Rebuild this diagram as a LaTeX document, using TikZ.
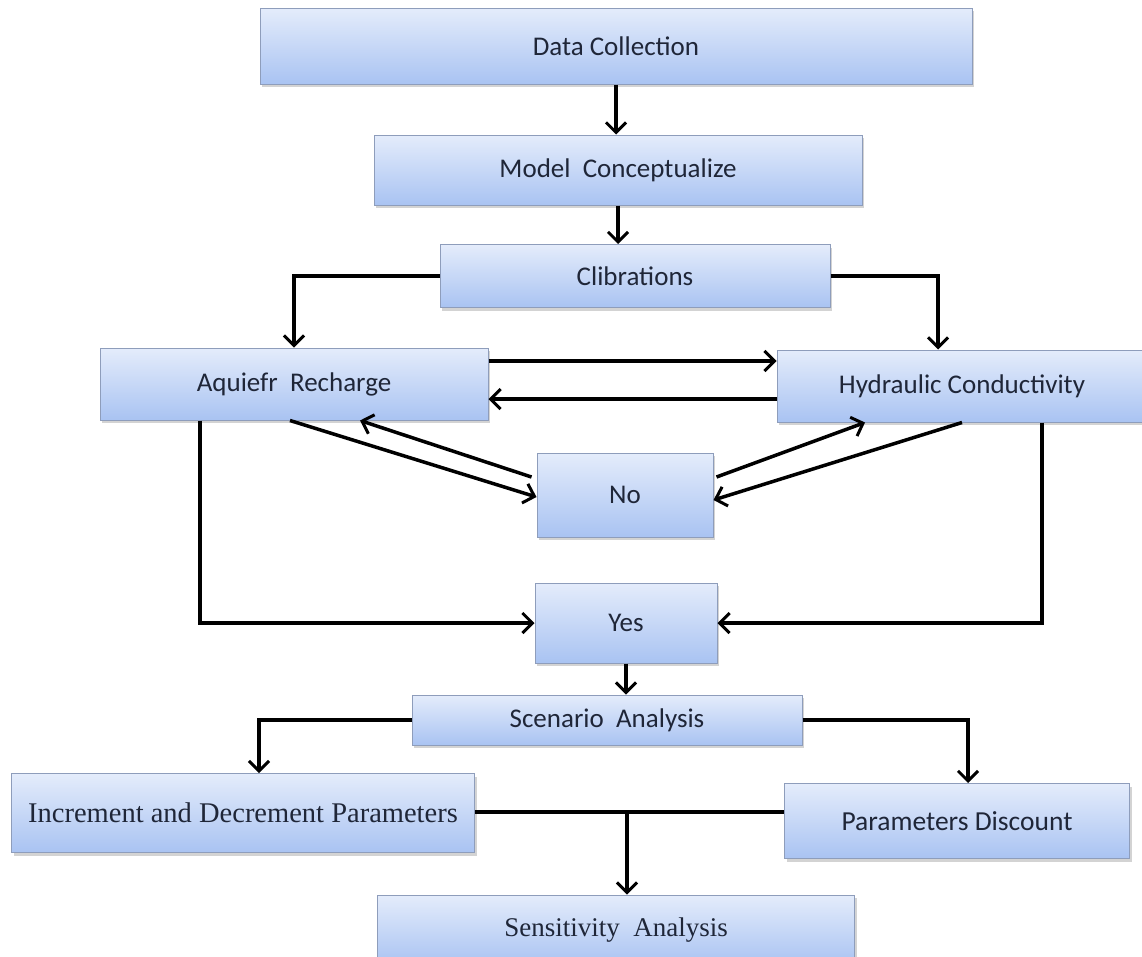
\documentclass[tikz,border=0pt]{standalone}
\usepackage{fontspec}
\setmainfont{Carlito}
\newfontfamily\serifx{Liberation Serif}
\usetikzlibrary{arrows.meta,shadows,calc}
\definecolor{boxtop}{HTML}{E4ECFB}
\definecolor{boxbot}{HTML}{A9C3F2}
\definecolor{boxline}{HTML}{8E9DBB}
\definecolor{txt}{HTML}{1F2638}
\tikzset{
  fbox/.style={rectangle, draw=boxline, line width=1pt, top color=boxtop, bottom color=boxbot,
    drop shadow={opacity=0.35, shadow xshift=2pt, shadow yshift=-3pt},
    text=txt, font=\fontsize{27}{30}\selectfont, inner sep=0pt},
  arr/.style={line width=3.5pt, -{Straight Barb[length=10pt,width=20pt,line width=3pt]}},
  ln/.style={line width=3.5pt}
}
\begin{document}
\begin{tikzpicture}[x=1pt,y=-1pt]
\useasboundingbox (0,0) rectangle (1142,956);
\node[fbox, minimum width=712, minimum height=76] (dc) at (616,46) {Data Collection};
\node[fbox, minimum width=488, minimum height=70] (mc) at (618,170) {Model\ \ Conceptualize};
\node[fbox, minimum width=390, minimum height=63] (cal) at (635,276) {Clibrations};
\node[fbox, minimum width=388, minimum height=72] (aq) at (294,384) {Aquiefr\ \ Recharge};
\node[fbox, minimum width=370, minimum height=72] (hc) at (962,386) {Hydraulic Conductivity};
\node[fbox, minimum width=176, minimum height=84] (no) at (625,495) {No};
\node[fbox, minimum width=182, minimum height=80] (yes) at (626,623) {Yes};
\node[fbox, minimum width=390, minimum height=50] (sc) at (607,720) {Scenario\ \ Analysis};
\node[fbox, minimum width=463, minimum height=79, font=\serifx\fontsize{28.5}{30}\selectfont] (inc) at (243,813) {Increment and Decrement Parameters};
\node[fbox, minimum width=345, minimum height=75, font=\fontsize{27.5}{30}\selectfont] (pd) at (957,821) {Parameters Discount};
\node[fbox, minimum width=477, minimum height=70, font=\serifx\fontsize{27}{30}\selectfont] (sen) at (616,930) {Sensitivity\ \ Analysis};

\draw[arr] (dc.south) -- (dc.south |- mc.north);
\draw[arr] (mc.south) -- (mc.south |- cal.north);
\draw[arr] (cal.west) -| (aq.north);
\draw[arr] (cal.east) -| ([xshift=-24pt]hc.north);
\draw[arr] ([yshift=23pt]aq.east) -- ([yshift=23pt]aq.east -| hc.west);
\draw[arr] ([yshift=-15pt]aq.east -| hc.west) -- ([yshift=-15pt]aq.east);
\draw[arr] ([xshift=-4pt]aq.south) -- ([yshift=-2pt]no.west);
\draw[arr] ([xshift=-5pt,yshift=18pt]no.west) -- ([xshift=66pt]aq.south);
\draw[arr] ([xshift=3pt,yshift=18pt]no.east) -- ([xshift=-97pt]hc.south);
\draw[arr] ([xshift=0pt]hc.south) -- ([yshift=-5pt]no.east);
\draw[arr] ([xshift=-94pt]aq.south) |- (yes.west);
\draw[arr] ([xshift=80pt]hc.south) |- (yes.east);
\draw[arr] (yes.south) -- (yes.south |- sc.north);
\draw[arr] (sc.west) -| ([xshift=16pt]inc.north);
\draw[arr] (sc.east) -| ([xshift=11pt]pd.north);
\draw[ln] ([yshift=1pt]inc.east) -- ([yshift=1pt]inc.east -| pd.west);
\coordinate (j) at (627,812);
\draw[arr] (j) -- (j |- sen.north);
\end{tikzpicture}
\end{document}
